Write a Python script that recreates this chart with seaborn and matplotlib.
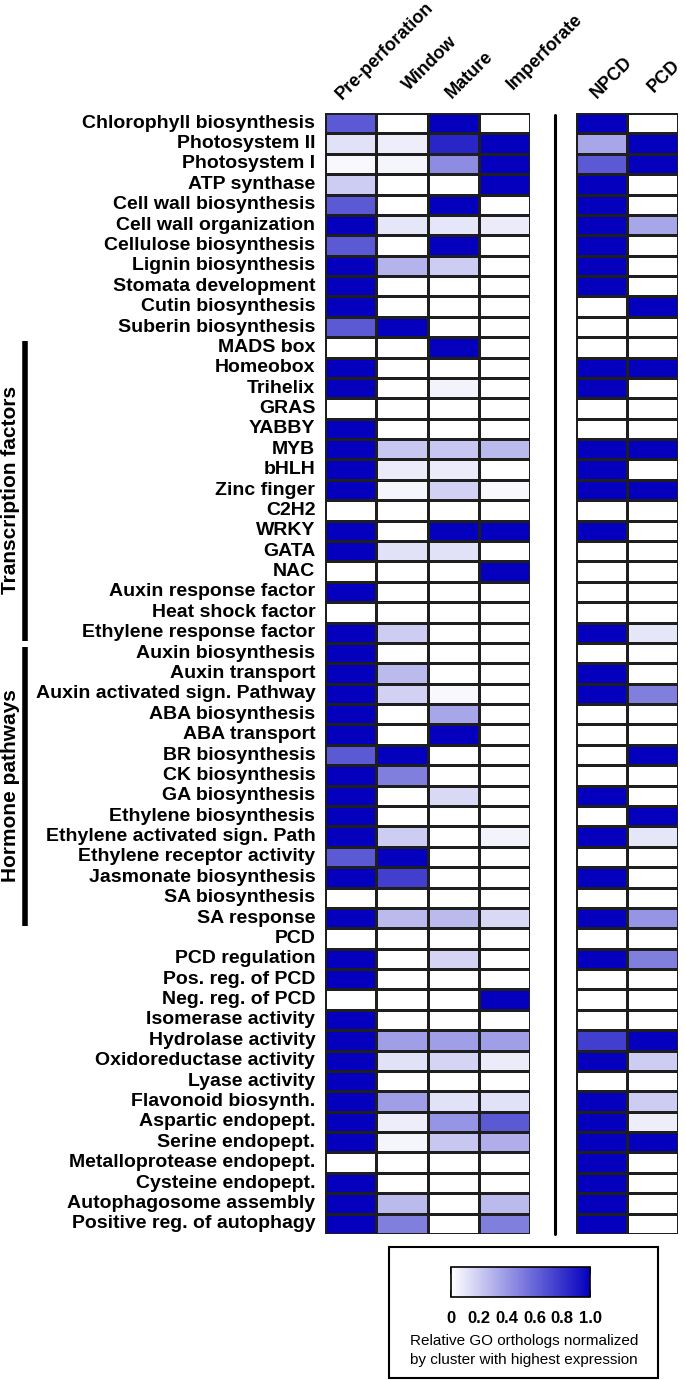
import pandas as pd
import matplotlib.pyplot as plt
import seaborn as sns
from matplotlib.colors import LinearSegmentedColormap
from matplotlib.patches import Rectangle
from matplotlib.lines import Line2D
from matplotlib.transforms import blended_transform_factory, ScaledTranslation

sns.set_style("white")
plt.rcParams['font.family'] = ['Liberation Sans', 'DejaVu Sans']
plt.rcParams['text.color'] = 'black'
plt.rcParams['xtick.color'] = 'black'
plt.rcParams['ytick.color'] = 'black'
plt.rcParams['axes.labelcolor'] = 'black'

# GO terms (rows, top to bottom)
terms = [
    "Chlorophyll biosynthesis", "Photosystem II", "Photosystem I", "ATP synthase",
    "Cell wall biosynthesis", "Cell wall organization", "Cellulose biosynthesis",
    "Lignin biosynthesis", "Stomata development", "Cutin biosynthesis", "Suberin biosynthesis",
    "MADS box", "Homeobox", "Trihelix", "GRAS", "YABBY", "MYB", "bHLH", "Zinc finger",
    "C2H2", "WRKY", "GATA", "NAC", "Auxin response factor", "Heat shock factor",
    "Ethylene response factor",
    "Auxin biosynthesis", "Auxin transport", "Auxin activated sign. Pathway",
    "ABA biosynthesis", "ABA transport", "BR biosynthesis", "CK biosynthesis",
    "GA biosynthesis", "Ethylene biosynthesis", "Ethylene activated sign. Path",
    "Ethylene receptor activity", "Jasmonate biosynthesis", "SA biosynthesis", "SA response",
    "PCD", "PCD regulation", "Pos. reg. of PCD", "Neg. reg. of PCD", "Isomerase activity",
    "Hydrolase activity", "Oxidoreductase activity", "Lyase activity", "Flavonoid biosynth.",
    "Aspartic endopept.", "Serine endopept.", "Metalloprotease endopept.",
    "Cysteine endopept.", "Autophagosome assembly", "Positive reg. of autophagy",
]
stages = ["Pre-perforation", "Window", "Mature", "Imperforate"]
clusters = ["NPCD", "PCD"]

pre_perforation = [0.65, 0.12, 0.03, 0.2, 0.65, 1, 0.65, 1, 1, 1, 0.65,
                   0, 1, 1, 0, 1, 1, 1, 1, 0, 1, 1, 0, 1, 0, 1,
                   1, 1, 1, 1, 1, 0.65, 1, 1, 1, 1, 0.65, 1, 0, 1,
                   0, 1, 1, 0, 1, 1, 1, 1, 1, 1, 1, 0, 1, 1, 1]
window = [0, 0.07, 0.04, 0, 0, 0.1, 0, 0.3, 0, 0, 1,
          0, 0, 0, 0, 0, 0.22, 0.08, 0.04, 0, 0, 0.12, 0, 0, 0, 0.2,
          0, 0.27, 0.18, 0, 0, 1, 0.5, 0, 0, 0.2, 1, 0.75, 0, 0.27,
          0, 0, 0, 0, 0, 0.38, 0.12, 0, 0.38, 0.07, 0.04, 0, 0, 0.27, 0.5]
mature = [1, 0.85, 0.45, 0, 1, 0.1, 1, 0.2, 0, 0, 0,
          1, 0, 0.05, 0, 0, 0.22, 0.08, 0.18, 0, 1, 0.12, 0, 0, 0, 0,
          0, 0, 0.03, 0.35, 1, 0, 0, 0.15, 0, 0, 0, 0, 0, 0.27,
          0, 0.17, 0, 0, 0, 0.38, 0.17, 0, 0.12, 0.42, 0.22, 0, 0, 0, 0]
imperforate = [0, 1, 1, 1, 0, 0.08, 0, 0, 0, 0, 0,
               0, 0, 0, 0, 0, 0.27, 0, 0.03, 0, 1, 0, 1, 0, 0, 0,
               0, 0, 0, 0, 0, 0, 0, 0, 0, 0.05, 0, 0, 0, 0.15,
               0, 0, 0, 1, 0, 0.38, 0.08, 0, 0.12, 0.65, 0.32, 0, 0, 0.27, 0.5]
npcd = [1, 0.35, 0.65, 1, 1, 1, 1, 1, 1, 0, 0,
        0, 1, 1, 0, 0, 1, 1, 1, 0, 1, 0, 0, 0, 0, 1,
        0, 1, 1, 0, 0, 0, 0, 1, 0, 1, 0, 1, 0, 1,
        0, 1, 0, 0, 0, 0.75, 1, 0, 1, 1, 1, 1, 1, 1, 1]
pcd = [0, 1, 1, 0, 0, 0.35, 0, 0, 0, 1, 0,
       0, 1, 0, 0, 0, 1, 0, 1, 0, 0, 0, 0, 0, 0, 0.1,
       0, 0, 0.5, 0, 0, 1, 0, 0, 1, 0.1, 0, 0, 0, 0.42,
       0, 0.5, 0, 0, 0, 1, 0.2, 0, 0.2, 0.07, 1, 0, 0, 0, 0]

# bracketed groups: (label, first term, last term)
groups = [("Transcription factors", "MADS box", "Ethylene response factor"),
          ("Hormone pathways", "Auxin biosynthesis", "SA response")]

cbar_ticks = [0, 0.2, 0.4, 0.6, 0.8, 1.0]
cbar_labels = ["0", "0.2", "0.4", "0.6", "0.8", "1.0"]

stage_df = pd.DataFrame(dict(zip(stages, [pre_perforation, window, mature, imperforate])), index=terms)
cluster_df = pd.DataFrame(dict(zip(clusters, [npcd, pcd])), index=terms)

cmap = LinearSegmentedColormap.from_list("go_blue", ["#FFFFFF", "#0400BE"])

W, H = 685, 1380
fig = plt.figure(figsize=(W / 100, H / 100), dpi=100)


def px_box(x0, y0, x1, y1):
    # pixel box (from top-left) -> figure rect
    return [x0 / W, 1 - y1 / H, (x1 - x0) / W, (y1 - y0) / H]


ax1 = fig.add_axes(px_box(325, 113, 530, 1234))
ax2 = fig.add_axes(px_box(576, 113, 678, 1234))

hm_kw = dict(cmap=cmap, vmin=0, vmax=1, cbar=False, linewidths=0.9, linecolor='#1e1e1e')
sns.heatmap(stage_df, ax=ax1, yticklabels=True, **hm_kw)
sns.heatmap(cluster_df, ax=ax2, yticklabels=False, **hm_kw)

# header labels sit a little unevenly in the original (pixel nudges, x right / y up)
header_nudge = {"Pre-perforation": (-6, -1), "Window": (10, 8), "Mature": (1, 0),
                "Imperforate": (11, 9), "NPCD": (-2, 0), "PCD": (4, 6)}
for ax in (ax1, ax2):
    ax.xaxis.tick_top()
    ax.tick_params(axis='x', length=0, pad=8)
    for lab in ax.get_xticklabels():
        dx, dy = header_nudge[lab.get_text()]
        lab.set_rotation(45)
        lab.set_ha('left')
        lab.set_va('bottom')
        lab.set_rotation_mode('anchor')
        lab.set_fontsize(13)
        lab.set_fontweight('bold')
        lab.set_color('black')
        lab.set_transform(lab.get_transform() + ScaledTranslation(dx / 100, dy / 100, fig.dpi_scale_trans))
    ax.set_xlabel('')
    ax.set_ylabel('')

ax1.tick_params(axis='y', length=0, pad=7)
for lab in ax1.get_yticklabels():
    lab.set_rotation(0)
    lab.set_fontsize(14)
    lab.set_fontweight('bold')
    lab.set_color('black')

# vertical separator between the two heatmaps
fig.add_artist(Line2D([555 / W, 555 / W], [1 - 115 / H, 1 - 1234 / H], color='black', lw=2.2))

# group brackets on the left
trans = blended_transform_factory(fig.transFigure, ax1.transData)
for label, first, last in groups:
    i0 = terms.index(first)
    i1 = terms.index(last) + 1
    fig.add_artist(Line2D([25 / W, 25 / W], [i0 + 0.2, i1 - 0.1], color='black', lw=4,
                          transform=trans, solid_capstyle='butt'))
    fig.text(11 / W, (i0 + i1) / 2, label, transform=trans, rotation=90,
             ha='center', va='center', fontsize=15, fontweight='bold', color='black')

# legend box with colour scale
fig.add_artist(Rectangle((389 / W, 1 - 1378 / H), (658 - 389) / W, (1378 - 1247) / H,
                         transform=fig.transFigure, fill=False, edgecolor='black', lw=1.5))
cax = fig.add_axes(px_box(451, 1267, 590, 1297))
cb = fig.colorbar(ax1.collections[0], cax=cax, orientation='horizontal')
cb.set_ticks(cbar_ticks, labels=cbar_labels)
cb.outline.set_linewidth(1.2)
cb.outline.set_edgecolor('black')
cax.tick_params(axis='x', direction='in', top=True, bottom=True, length=5, width=1.2,
                color='black', labelcolor='black', labelsize=12, pad=10)
for lab in cax.get_xticklabels():
    lab.set_fontweight('bold')

fig.text(524 / W, 1 - 1341 / H, "Relative GO orthologs normalized", ha='center', va='center',
         fontsize=11, color='black')
fig.text(524 / W, 1 - 1360 / H, "by cluster with highest expression", ha='center', va='center',
         fontsize=11, color='black')

fig.savefig("out.png", dpi=100)
